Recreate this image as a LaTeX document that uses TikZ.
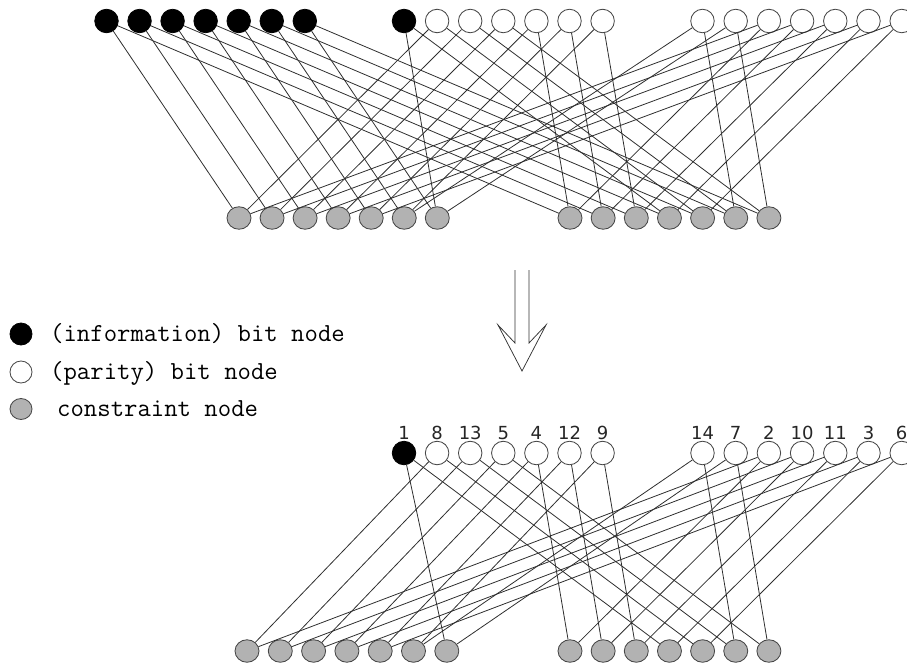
\documentclass[tikz,border=0pt]{standalone}
\usepackage{fontspec}
\newfontfamily\numfont{DejaVu Sans}
\usetikzlibrary{shapes.geometric}
\begin{document}
\begin{tikzpicture}[x=1pt,y=-1pt,
  infobit/.style={circle, draw=black, fill=black, minimum size=23.5pt, inner sep=0pt, line width=0.8pt},
  paritybit/.style={circle, draw=black!72, fill=white, minimum size=23.5pt, inner sep=0pt, line width=0.85pt},
  cons/.style={ellipse, draw=black!72, fill=black!30, minimum width=24pt, minimum height=22.5pt, inner sep=0pt, line width=0.85pt},
  link/.style={draw=black!82, line width=0.8pt},
  numlab/.style={font=\numfont\fontsize{18}{20}\selectfont, text=black!85, inner sep=0pt},
  legtext/.style={font=\ttfamily\fontsize{26}{28}\selectfont, text=black, inner sep=0pt, anchor=base west},
  arrowline/.style={draw=black!80, line width=0.75pt, line join=miter}
]
\useasboundingbox (0,0) rectangle (907,664);

% ---------- top graph ----------
\foreach \k in {0,...,6} {
  \node[infobit] (ta\k) at ({106.5+33.05*\k},21) {};
}
\node[infobit] (tp0) at (404,21) {};
\foreach \k in {1,...,6} {
  \node[paritybit] (tp\k) at ({404+33.1*\k},21) {};
}
\foreach \k in {0,...,6} {
  \node[paritybit] (tq\k) at ({702.5+33.2*\k},21) {};
}
\foreach \k in {1,...,7} {
  \node[cons] (tc\k) at ({239+33.05*(\k-1)},218) {};
}
\foreach \k in {8,...,14} {
  \node[cons] (tc\k) at ({570+33.15*(\k-8)},218) {};
}
% info edges
\foreach \k in {0,...,6} {
  \pgfmathtruncatemacro{\a}{\k+1}
  \pgfmathtruncatemacro{\b}{\k+8}
  \draw[link] (ta\k) -- (tc\a);
  \draw[link] (ta\k) -- (tc\b);
}
% group 2 edges
\draw[link] (tp0) -- (tc7);
\foreach \k in {0,...,3} {
  \pgfmathtruncatemacro{\a}{\k+11}
  \draw[link] (tp\k) -- (tc\a);
}
\foreach \k in {1,...,6} {
  \draw[link] (tp\k) -- (tc\k);
}
\foreach \k in {4,...,6} {
  \pgfmathtruncatemacro{\a}{\k+4}
  \draw[link] (tp\k) -- (tc\a);
}
% group 3 edges
\draw[link] (tq0) -- (tc13);
\draw[link] (tq1) -- (tc14);
\draw[link] (tq0) -- (tc6);
\draw[link] (tq1) -- (tc7);
\foreach \k in {2,...,6} {
  \pgfmathtruncatemacro{\a}{\k+6}
  \pgfmathtruncatemacro{\b}{\k-1}
  \draw[link] (tq\k) -- (tc\a);
  \draw[link] (tq\k) -- (tc\b);
}

% ---------- legend ----------
\node[infobit, minimum size=22pt] (l1) at (21,334) {};
\node[paritybit, minimum size=22pt] (l2) at (21,372) {};
\node[cons, minimum width=22pt, minimum height=21pt] (l3) at (21,409) {};
\node[legtext] (lt1) at (50,341) {(information) bit node};
\node[legtext] (lt2) at (50,379) {(parity) bit node};
\node[legtext] (lt3) at (57,416) {constraint node};

% ---------- arrow ----------
\draw[arrowline] (515,270) -- (515,343) -- (498,325) -- (522,371) -- (546,325) -- (529,343) -- (529,270);

% ---------- bottom graph ----------
\node[infobit] (bp0) at (404,453) {};
\foreach \k in {1,...,6} {
  \node[paritybit] (bp\k) at ({404+33.1*\k},453) {};
}
\foreach \k in {0,...,6} {
  \node[paritybit] (bq\k) at ({702.5+33.2*\k},453) {};
}
\foreach \k in {1,...,7} {
  \node[cons] (bc\k) at ({247+33.3*(\k-1)},651) {};
}
\foreach \k in {8,...,14} {
  \node[cons] (bc\k) at ({570+33.15*(\k-8)},651) {};
}
\draw[link] (bp0) -- (bc7);
\foreach \k in {0,...,3} {
  \pgfmathtruncatemacro{\a}{\k+11}
  \draw[link] (bp\k) -- (bc\a);
}
\foreach \k in {1,...,6} {
  \draw[link] (bp\k) -- (bc\k);
}
\foreach \k in {4,...,6} {
  \pgfmathtruncatemacro{\a}{\k+4}
  \draw[link] (bp\k) -- (bc\a);
}
\draw[link] (bq0) -- (bc13);
\draw[link] (bq1) -- (bc14);
\draw[link] (bq0) -- (bc6);
\draw[link] (bq1) -- (bc7);
\foreach \k in {2,...,6} {
  \pgfmathtruncatemacro{\a}{\k+6}
  \pgfmathtruncatemacro{\b}{\k-1}
  \draw[link] (bq\k) -- (bc\a);
  \draw[link] (bq\k) -- (bc\b);
}
% labels
\foreach \k/\t in {0/1,1/8,2/13,3/5,4/4,5/12,6/9} {
  \node[numlab] (np\k) at ({404+33.1*\k},433) {\t};
}
\foreach \k/\t in {0/14,1/7,2/2,3/10,4/11,5/3,6/6} {
  \node[numlab] (nq\k) at ({702.5+33.2*\k},433) {\t};
}
\end{tikzpicture}
\end{document}
